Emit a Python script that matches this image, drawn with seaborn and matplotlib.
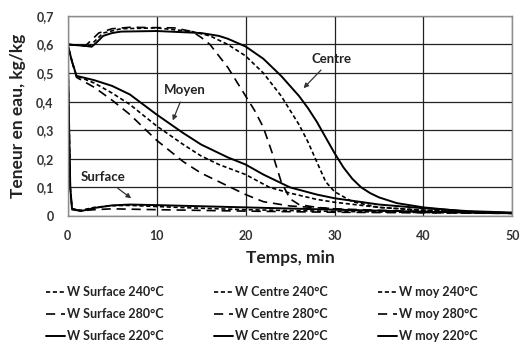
import matplotlib
matplotlib.use("Agg")
import matplotlib.pyplot as plt
import seaborn as sns
import pandas as pd

# Temps (min) / teneur en eau (kg/kg) pour chaque position et température
surf_240_t = [0, 0.3, 0.5, 1.5, 3, 5, 7, 10, 15, 20, 30, 40, 50]
surf_240_w = [0.6, 0.1, 0.025, 0.02, 0.03, 0.036, 0.037, 0.033, 0.027, 0.022, 0.016, 0.012, 0.009]
surf_280_t = [0, 0.3, 0.5, 1.5, 3, 5, 10, 20, 30, 40, 50]
surf_280_w = [0.6, 0.1, 0.022, 0.018, 0.022, 0.025, 0.022, 0.017, 0.013, 0.011, 0.009]
surf_220_t = [0, 0.3, 0.5, 1.5, 3, 5, 7, 10, 15, 20, 25, 30, 40, 50]
surf_220_w = [0.6, 0.1, 0.025, 0.017, 0.028, 0.037, 0.04, 0.038, 0.034, 0.03, 0.026, 0.022, 0.015, 0.01]

centre_240_t = [0, 2.5, 3, 4, 6, 10, 14, 16, 18, 20, 22, 24, 25, 26, 27, 28, 29, 30, 32, 35, 40, 50]
centre_240_w = [0.6, 0.595, 0.61, 0.64, 0.655, 0.658, 0.645, 0.63, 0.6, 0.56, 0.5, 0.42, 0.37, 0.32, 0.26,
                0.19, 0.12, 0.085, 0.05, 0.03, 0.02, 0.01]
centre_280_t = [0, 2, 2.5, 3.5, 5, 7, 12, 14, 15, 16, 17, 18, 19, 20, 21, 22, 23, 24, 25, 26, 28, 32, 40, 50]
centre_280_w = [0.6, 0.595, 0.61, 0.64, 0.655, 0.66, 0.658, 0.645, 0.625, 0.6, 0.56, 0.52, 0.47, 0.42, 0.37,
                0.31, 0.22, 0.12, 0.06, 0.04, 0.03, 0.02, 0.015, 0.01]
centre_220_t = [0, 2, 2.7, 3.2, 4, 5, 6, 10, 15, 17, 18, 20, 22, 24, 25, 26, 27, 28, 29, 30, 31, 32, 33,
                34, 35, 37, 40, 45, 50]
centre_220_w = [0.6, 0.595, 0.592, 0.605, 0.63, 0.64, 0.645, 0.647, 0.64, 0.63, 0.62, 0.593, 0.55, 0.49,
                0.455, 0.42, 0.378, 0.33, 0.275, 0.22, 0.17, 0.13, 0.1, 0.08, 0.065, 0.045, 0.03, 0.015,
                0.01]

moy_240_t = [0, 0.5, 1, 3, 5, 7, 10, 13, 15, 17, 20, 22.7, 25, 28, 30, 35, 40, 50]
moy_240_w = [0.6, 0.54, 0.49, 0.465, 0.43, 0.39, 0.315, 0.25, 0.21, 0.18, 0.145, 0.1, 0.08, 0.058, 0.048,
             0.03, 0.02, 0.01]
moy_280_t = [0, 0.5, 1, 3, 5, 7, 10, 13, 15, 17, 20, 22, 25, 30, 40, 50]
moy_280_w = [0.6, 0.54, 0.485, 0.45, 0.405, 0.355, 0.265, 0.19, 0.15, 0.12, 0.075, 0.05, 0.035, 0.025,
             0.015, 0.01]
moy_220_t = [0, 0.5, 1, 3, 5, 7, 10, 13, 15, 18, 20, 22, 25, 28, 30, 35, 40, 45, 50]
moy_220_w = [0.6, 0.54, 0.49, 0.475, 0.455, 0.425, 0.355, 0.29, 0.25, 0.205, 0.18, 0.145, 0.1, 0.075,
             0.062, 0.04, 0.027, 0.017, 0.012]

series = [
    ("W Surface 240°C", surf_240_t, surf_240_w, "240"),
    ("W Surface 280°C", surf_280_t, surf_280_w, "280"),
    ("W Surface 220°C", surf_220_t, surf_220_w, "220"),
    ("W Centre 240°C", centre_240_t, centre_240_w, "240"),
    ("W Centre 280°C", centre_280_t, centre_280_w, "280"),
    ("W Centre 220°C", centre_220_t, centre_220_w, "220"),
    ("W moy 240°C", moy_240_t, moy_240_w, "240"),
    ("W moy 280°C", moy_280_t, moy_280_w, "280"),
    ("W moy 220°C", moy_220_t, moy_220_w, "220"),
]

line_styles = {
    "240": dict(linestyle=(0, (2.5, 1.6)), linewidth=1.2),
    "280": dict(linestyle=(0, (5.5, 3.5)), linewidth=1.2),
    "220": dict(linestyle="-", linewidth=1.4),
}

sns.set_theme(style="white")
plt.rcParams["font.family"] = ["Lato", "DejaVu Sans"]
plt.rcParams["font.weight"] = "bold"

fig = plt.figure(figsize=(5.24, 3.45), dpi=100)
ax = fig.add_axes([0.129, 0.374, 0.849, 0.58])

handles = []
for label, t, w, temp in series:
    df = pd.DataFrame({"t": t, "w": w})
    sns.lineplot(data=df, x="t", y="w", ax=ax, color="black", label=label,
                 legend=False, **line_styles[temp])
    handles.append(ax.lines[-1])

ax.set_xlim(0, 50)
ax.set_ylim(0, 0.7)
ax.set_xticks([0, 10, 20, 30, 40, 50])
ax.set_yticks([0, 0.1, 0.2, 0.3, 0.4, 0.5, 0.6, 0.7])
ax.set_yticklabels(["0", "0,1", "0,2", "0,3", "0,4", "0,5", "0,6", "0,7"])
ax.grid(True, color="#222222", linewidth=0.9)
ax.set_axisbelow(True)
for s in ax.spines.values():
    s.set_color("#8c8c8c")
    s.set_linewidth(1.0)
ax.tick_params(axis="both", length=4, width=0.9, color="#8c8c8c", direction="out",
               labelsize=9, labelcolor="#333333", pad=6)
for lbl in ax.get_xticklabels() + ax.get_yticklabels():
    lbl.set_fontweight("bold")

ax.set_xlabel("Temps, min", fontsize=12.5, fontweight="bold", color="#222222", labelpad=6)
ax.set_ylabel("Teneur en eau, kg/kg", fontsize=12.5, fontweight="bold", color="#222222", labelpad=7)

arrow = dict(arrowstyle="-|>", color="#333333", lw=0.9, mutation_scale=7)
ax.annotate("Moyen", xy=(11.7, 0.325), xytext=(13.2, 0.44), ha="center", va="center",
            fontsize=9.5, fontweight="bold", color="#222222", arrowprops=arrow)
ax.annotate("Centre", xy=(26.3, 0.44), xytext=(29.7, 0.55), ha="center", va="center",
            fontsize=9.5, fontweight="bold", color="#222222", arrowprops=arrow)
ax.annotate("Surface", xy=(7.4, 0.056), xytext=(4.0, 0.135), ha="center", va="center",
            fontsize=9.5, fontweight="bold", color="#222222", arrowprops=arrow)

fig.legend(handles=handles, labels=[s[0] for s in series], ncol=3, loc="lower center",
           bbox_to_anchor=(0.5, -0.025), frameon=False, handlelength=1.55,
           handletextpad=0.15, columnspacing=4.0, labelspacing=0.8, labelcolor="#222222",
           prop={"weight": "bold", "size": 9})

fig.savefig("out.png", dpi=100)
